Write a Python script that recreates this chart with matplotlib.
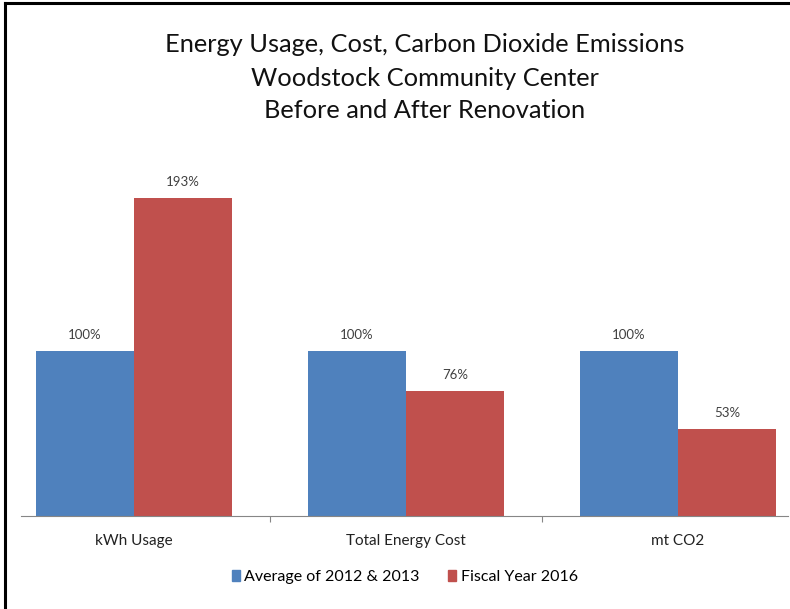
import matplotlib.pyplot as plt
import numpy as np
from matplotlib.lines import Line2D
from matplotlib.patches import Patch

categories = ['kWh Usage', 'Total Energy Cost', 'mt CO2']
baseline = [100, 100, 100]
fy2016 = [193, 76, 53]
series_names = ['Average of 2012 & 2013', 'Fiscal Year 2016']

blue = '#4F81BD'
red = '#C0504D'
font = 'Lato'

W, H = 790, 609
fig = plt.figure(figsize=(W / 100, H / 100), dpi=100)
ax = fig.add_axes([21 / W, (H - 516) / H, (788 - 21) / W, 330 / H])

x = np.arange(len(categories))
w = 98 / 272
ax.bar(x - w / 2, baseline, w, color=blue)
ax.bar(x + w / 2, fy2016, w, color=red)

# value labels above each bar
for i in range(len(categories)):
    ax.text(x[i] - w / 2, baseline[i] + 6, f'{baseline[i]}%', ha='center', va='bottom',
            fontsize=9.5, family=font, color='#404040')
    ax.text(x[i] + w / 2, fy2016[i] + 6, f'{fy2016[i]}%', ha='center', va='bottom',
            fontsize=9.5, family=font, color='#404040')

ax.set_xlim((21 - 134) / 272, (788 - 134) / 272)
ax.set_ylim(0, 200)
ax.set_yticks([])
for s in ['top', 'right', 'left']:
    ax.spines[s].set_visible(False)
ax.spines['bottom'].set_color('#868686')
ax.set_xticks([0.5, 1.5])
ax.set_xticklabels([])
ax.tick_params(axis='x', length=4, color='#868686', direction='out')

for i, c in enumerate(categories):
    ax.text(x[i], -15, c, ha='center', va='center', fontsize=11, family=font, color='#222222')

handles = [Patch(color=blue, label=series_names[0]), Patch(color=red, label=series_names[1])]
fig.legend(handles=handles, loc='center', bbox_to_anchor=(405 / W, 1 - 577 / H), ncol=2,
           frameon=False, prop={'family': font, 'size': 11.5}, handlelength=0.5,
           handleheight=0.7, handletextpad=0.3, columnspacing=1.8)

titles = ['Energy Usage, Cost, Carbon Dioxide Emissions', 'Woodstock Community Center',
          'Before and After Renovation']
for k, t in enumerate(titles):
    fig.text(425 / W, 1 - (45 + 33 * k) / H, t, ha='center', va='center',
             fontsize=18.3, family=font, color='#111111')

fig.add_artist(Line2D([5 / W, 5 / W], [0, 1 - 3 / H], color='black', lw=2.2))
fig.add_artist(Line2D([5 / W, 1], [1 - 3 / H, 1 - 3 / H], color='black', lw=2.2))

fig.savefig('out.png', dpi=100)
